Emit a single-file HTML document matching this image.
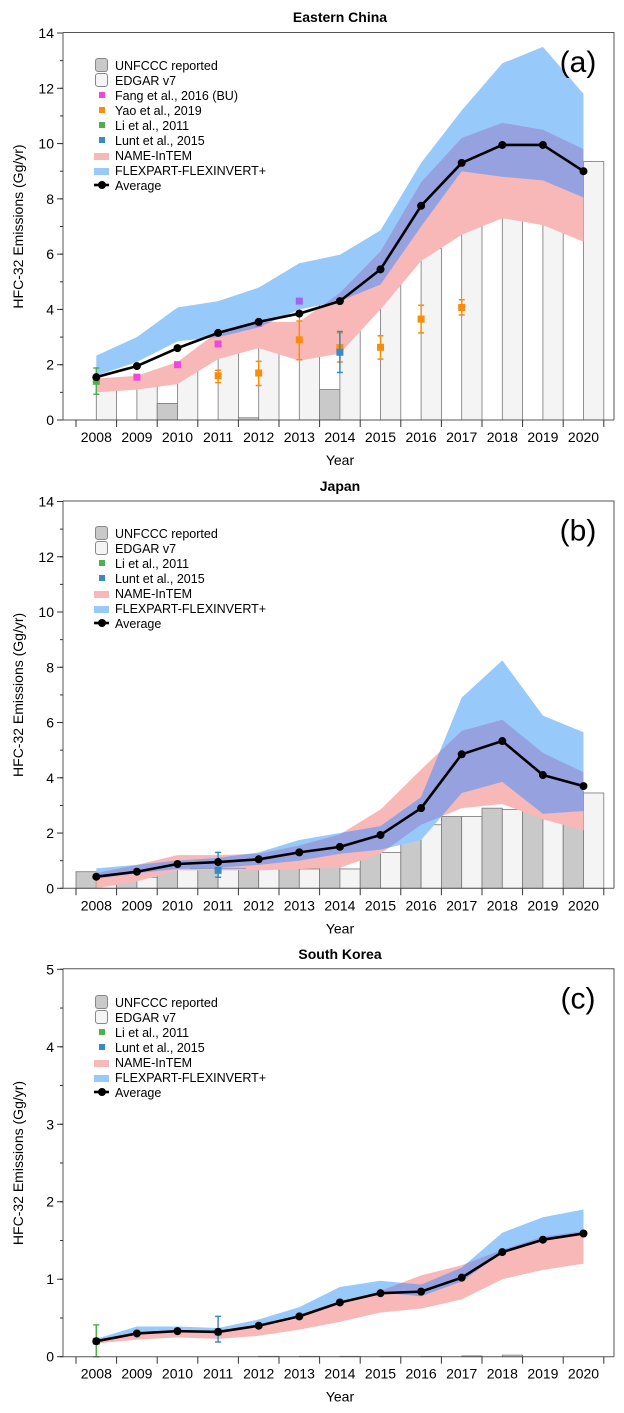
<!DOCTYPE html>
<html><head><meta charset="utf-8"><style>
body{margin:0;background:#fff;}
svg{display:block;font-family:"Liberation Sans",sans-serif;}
</style></head><body>
<svg id="fig" width="624" height="1413" viewBox="0 0 624 1413" xmlns="http://www.w3.org/2000/svg"></svg>
<script>
const years = [2008,2009,2010,2011,2012,2013,2014,2015,2016,2017,2018,2019,2020];
// Panel a: Eastern China
const aAverage = [1.55,1.95,2.6,3.15,3.55,3.85,4.3,5.45,7.75,9.3,9.95,9.95,9.0];
const aEdgar = [1.35,1.55,2.0,2.75,3.5,4.3,4.9,5.5,6.2,7.0,7.8,8.55,9.35];
const aUnfccc = [0,0,0.6,0,0.08,0,1.1,0,0,0,0,0,0];
const aPinkLow = [1.0,1.1,1.3,2.2,2.6,2.15,2.4,4.0,5.75,6.7,7.3,7.05,6.45];
const aPinkHigh = [1.5,1.6,2.1,3.2,3.55,3.55,4.6,6.1,8.6,10.2,10.75,10.5,9.8];
const aBlueLow = [1.6,2.1,2.85,3.0,3.35,4.0,4.3,4.9,7.0,9.0,8.8,8.67,8.05];
const aBlueHigh = [2.33,3.0,4.07,4.3,4.79,5.67,5.98,6.86,9.3,11.2,12.9,13.5,11.8];
const aFangYears = [2009,2010,2011,2012,2013];
const aFangVals = [1.55,2.0,2.75,3.5,4.3];
const aYaoYears = [2011,2012,2013,2014,2015,2016,2017];
const aYaoVals = [1.6,1.7,2.9,2.62,2.63,3.65,4.07];
const aYaoLo = [1.35,1.25,2.18,2.1,2.2,3.15,3.8];
const aYaoHi = [1.8,2.12,3.58,3.15,3.05,4.15,4.35];
const aLiYears=[2008], aLiVals=[1.4], aLiLo=[0.93], aLiHi=[1.88];
const aLuntYears=[2014], aLuntVals=[2.45], aLuntLo=[1.72], aLuntHi=[3.2];
// Panel b: Japan
const bAverage = [0.42,0.6,0.88,0.95,1.05,1.3,1.5,1.93,2.9,4.85,5.33,4.1,3.7];
const bUnfccc = [0.6,0.7,0.75,0.8,1.2,1.4,1.7,2.05,2.35,2.6,2.9,3.15,3.5];
const bEdgar = [0.45,0.4,0.75,0.7,0.7,0.7,0.7,1.3,2.3,2.6,2.85,3.15,3.45];
const bPinkLow = [0.0,0.25,0.65,0.65,0.65,0.7,0.75,1.25,2.3,2.9,3.05,2.5,2.1];
const bPinkHigh = [0.55,0.85,1.2,1.2,1.25,1.55,1.95,2.85,4.3,5.7,6.1,4.9,4.2];
const bBlueLow = [0.35,0.55,0.7,0.75,0.85,1.0,1.25,1.4,1.75,3.45,3.85,2.7,2.8];
const bBlueHigh = [0.72,0.85,1.0,1.1,1.3,1.75,2.0,2.25,3.3,6.9,8.25,6.25,5.65];
const bLuntYears=[2011], bLuntVals=[0.65], bLuntLo=[0.4], bLuntHi=[1.3];
// Panel c: South Korea
const cAverage = [0.2,0.3,0.33,0.32,0.4,0.52,0.7,0.82,0.84,1.02,1.35,1.51,1.59];
const cUnfccc = [0,0,0,0,0,0,0,0,0,0,0,0,0];
const cEdgar = [0,0,0,0,0.005,0.005,0.005,0.005,0.005,0.01,0.02,0,0];
const cPinkLow = [0.17,0.22,0.25,0.23,0.27,0.35,0.45,0.57,0.62,0.74,1.0,1.12,1.2];
const cPinkHigh = [0.2,0.3,0.34,0.32,0.38,0.5,0.7,0.85,1.05,1.18,1.38,1.55,1.62];
const cBlueLow = [0.2,0.3,0.33,0.33,0.4,0.53,0.72,0.83,0.78,0.97,1.35,1.52,1.6];
const cBlueHigh = [0.23,0.39,0.39,0.37,0.48,0.64,0.9,0.98,0.93,1.15,1.6,1.8,1.9];
const cLiYears=[2008], cLiVals=[0.2], cLiLo=[0.0], cLiHi=[0.41];
const cLuntYears=[2011], cLuntVals=[0.32], cLuntLo=[0.19], cLuntHi=[0.52];
const aTicks=[0,2,4,6,8,10,12,14], bTicks=[0,2,4,6,8,10,12,14], cTicks=[0,1,2,3,4,5];

const NS="http://www.w3.org/2000/svg";
const svg=document.getElementById('fig');
function mk(tag,attrs,parent){const e=document.createElementNS(NS,tag);for(const k in attrs)e.setAttribute(k,attrs[k]);(parent||svg).appendChild(e);return e;}
function txt(s,attrs,parent){const e=mk('text',attrs,parent);e.textContent=s;return e;}

const X0=76, SLOT=40.6, LEFT=63, RIGHT=614;
function xl(y){return X0+(y-2008)*SLOT;}
function xc(y){return xl(y)+SLOT/2;}

function panel(o){
  const g=mk('g',{});
  
  
  const ys=v=>o.y0-(v/o.max)*(o.y0-o.ytop);
  // title
  const t=txt(o.title,{x:340,y:o.titleY,'text-anchor':'middle','font-size':14,'font-weight':'bold'},g);
  
  // bars
  years.forEach((yr,i)=>{
    if(o.unfccc[i]>0){const r=mk('rect',{x:xl(yr),y:ys(o.unfccc[i]),width:SLOT/2,height:o.y0-ys(o.unfccc[i]),fill:'#c9c9c9',stroke:'#777','stroke-width':0.8},g);
      }
    if(o.edgar[i]>0){const r=mk('rect',{x:xc(yr),y:ys(o.edgar[i]),width:SLOT/2,height:o.y0-ys(o.edgar[i]),fill:'#f4f4f4',stroke:'#777','stroke-width':0.8},g);
      }
  });
  // bands
  function bandPts(lo,hi){const up=years.map((yr,i)=>xc(yr)+','+ys(hi[i]));const dn=years.map((yr,i)=>xc(yr)+','+ys(lo[i])).reverse();return up.concat(dn).join(' ');}
  const pinkPts=bandPts(o.pinkLow,o.pinkHigh), bluePts=bandPts(o.blueLow,o.blueHigh);
  const p=mk('polygon',{points:pinkPts,fill:'#f9b8b8'},g);
  
  const b=mk('polygon',{points:bluePts,fill:'#97c9fa'},g);
  
  const cp=mk('clipPath',{id:'clip-'+o.id},g);mk('polygon',{points:pinkPts},cp);
  const ov=mk('polygon',{points:bluePts,fill:'#96a2e0','clip-path':'url(#clip-'+o.id+')'},g);
  
  // markers with error bars
  function marks(yrsA,vals,lo,hi,color,name,xerr){
    if(!yrsA)return;
    yrsA.forEach((yr,i)=>{
      const x=xc(yr);
      if(lo){const l=mk('path',{d:`M${x},${ys(lo[i])}V${ys(hi[i])}M${x-3},${ys(lo[i])}h6M${x-3},${ys(hi[i])}h6`,stroke:color,'stroke-width':1.5,fill:'none'},g);
        }
      if(xerr){const l=mk('path',{d:`M${x-28},${ys(vals[i]+0.07)}h56`,stroke:color,'stroke-width':1,'stroke-opacity':0.6},g);
        }
      const c=Array.isArray(color)?color[i]:color;
      const r=mk('rect',{x:x-3.5,y:ys(vals[i])-3.5,width:7,height:7,fill:c},g);
      
    });
  }
  if(o.fangY){o.fangY.forEach((yr,i)=>{const c=yr>=2012?'#a064f0':'#f048d8';const r=mk('rect',{x:xc(yr)-3.5,y:ys(o.fangV[i])-3.5,width:7,height:7,fill:c},g);
    });}
  marks(o.yaoY,o.yaoV,o.yaoLo,o.yaoHi,'#f98c0a','yao');
  marks(o.liY,o.liV,o.liLo,o.liHi,'#4cb04c','li');
  marks(o.luntY,o.luntV,o.luntLo,o.luntHi,'#3b8ac8','lunt',o.luntX);
  // average
  const ln=mk('polyline',{points:years.map((yr,i)=>xc(yr)+','+ys(o.avg[i])).join(' '),fill:'none',stroke:'#000','stroke-width':2.6,'stroke-linejoin':'round'},g);
  
  years.forEach((yr,i)=>{const c=mk('circle',{cx:xc(yr),cy:ys(o.avg[i]),r:4,fill:'#000'},g);
    });
  // frame
  const fr=mk('path',{d:`M${LEFT},${o.ytop-0.5}H${RIGHT}V${o.y0}M${LEFT},${o.ytop-0.5}V${o.y0}H${RIGHT}`,fill:'none',stroke:'#555','stroke-width':1},g);
  
  // y ticks
  const minor=o.max===5?0.5:1;
  for(let v=0;v<=o.max+1e-6;v+=minor){mk('line',{x1:LEFT-3,x2:LEFT,y1:ys(v),y2:ys(v),stroke:'#333','stroke-width':1},g);}
  o.ticks.forEach(v=>{mk('line',{x1:LEFT-6,x2:LEFT,y1:ys(v),y2:ys(v),stroke:'#333','stroke-width':1},g);
    const tl=txt(String(v),{x:LEFT-9,y:ys(v)+5,'text-anchor':'end','font-size':14},g);
    });
  // x ticks
  for(let i=0;i<=13;i++){mk('line',{x1:X0+i*SLOT,x2:X0+i*SLOT,y1:o.y0,y2:o.y0+7,stroke:'#333','stroke-width':1},g);}
  years.forEach(yr=>{const tl=txt(String(yr),{x:xc(yr),y:o.y0+22,'text-anchor':'middle','font-size':14},g);
    });
  const xt=txt('Year',{x:340,y:o.y0+45,'text-anchor':'middle','font-size':14},g);
  
  const ym=(o.ytop+o.y0)/2;
  const yt=txt('HFC-32 Emissions (Gg/yr)',{x:0,y:0,'text-anchor':'middle','font-size':14,transform:`translate(23,${ym}) rotate(-90)`},g);
  
  const pl=txt(o.label,{x:578,y:o.ytop+39,'text-anchor':'middle','font-size':30},g);
  
  // legend
  const lg=mk('g',{},g);
  o.legend.forEach((it,i)=>{
    const y=o.legY+i*15;
    const e=mk('g',{},lg);
    if(it[1]==='box')mk('rect',{x:95.5,y:y-6.5,width:12,height:13,rx:2.5,fill:it[2],stroke:'#888'},e);
    else if(it[1]==='sq')mk('rect',{x:99,y:y-3,width:6,height:6,fill:it[2]},e);
    else if(it[1]==='band')mk('rect',{x:94,y:y-2,width:15,height:7,fill:it[2]},e);
    else {mk('line',{x1:94,x2:109,y1:y,y2:y,stroke:'#000','stroke-width':2.6},e);mk('circle',{cx:102,cy:y,r:4,fill:'#000'},e);}
    txt(it[0],{x:115,y:y+5,'font-size':12.5},e);
  });
}
const legFull=[['UNFCCC reported','box','#c9c9c9'],['EDGAR v7','box','#f4f4f4'],['Fang et al., 2016 (BU)','sq','#f048d8'],['Yao et al., 2019','sq','#f98c0a'],['Li et al., 2011','sq','#4cb04c'],['Lunt et al., 2015','sq','#3b8ac8'],['NAME-InTEM','band','#f9b8b8'],['FLEXPART-FLEXINVERT+','band','#97c9fa'],['Average','line']];
const legShort=legFull.filter((d,i)=>i!==2&&i!==3);
panel({id:'eastern-china',title:'Eastern China',titleY:22,ytop:33,y0:420,max:14,ticks:aTicks,label:'(a)',legY:65,legend:legFull,
  avg:aAverage,edgar:aEdgar,unfccc:aUnfccc,pinkLow:aPinkLow,pinkHigh:aPinkHigh,blueLow:aBlueLow,blueHigh:aBlueHigh,
  fangY:aFangYears,fangV:aFangVals,yaoY:aYaoYears,yaoV:aYaoVals,yaoLo:aYaoLo,yaoHi:aYaoHi,
  liY:aLiYears,liV:aLiVals,liLo:aLiLo,liHi:aLiHi,luntY:aLuntYears,luntV:aLuntVals,luntLo:aLuntLo,luntHi:aLuntHi});
panel({id:'japan',title:'Japan',titleY:491,ytop:501.5,y0:888.3,max:14,ticks:bTicks,label:'(b)',legY:533,legend:legShort,
  avg:bAverage,edgar:bEdgar,unfccc:bUnfccc,pinkLow:bPinkLow,pinkHigh:bPinkHigh,blueLow:bBlueLow,blueHigh:bBlueHigh,
  luntY:bLuntYears,luntV:bLuntVals,luntLo:bLuntLo,luntHi:bLuntHi,luntX:true});
panel({id:'south-korea',title:'South Korea',titleY:959,ytop:969.3,y0:1356.7,max:5,ticks:cTicks,label:'(c)',legY:1002,legend:legShort,
  avg:cAverage,edgar:cEdgar,unfccc:cUnfccc,pinkLow:cPinkLow,pinkHigh:cPinkHigh,blueLow:cBlueLow,blueHigh:cBlueHigh,
  liY:cLiYears,liV:cLiVals,liLo:cLiLo,liHi:cLiHi,luntY:cLuntYears,luntV:cLuntVals,luntLo:cLuntLo,luntHi:cLuntHi});
</script>
</body></html>
